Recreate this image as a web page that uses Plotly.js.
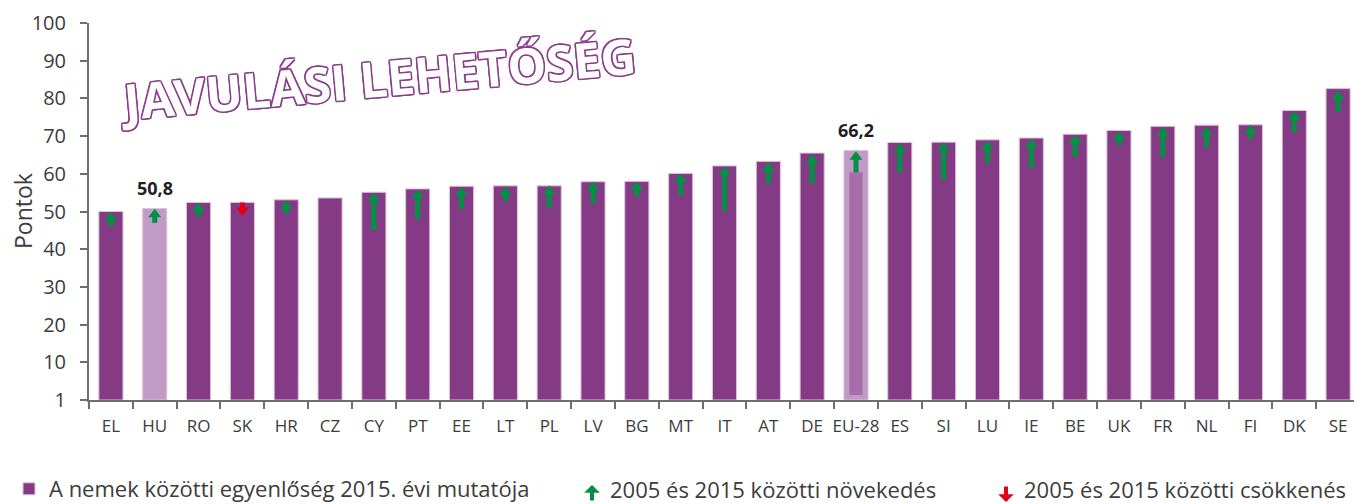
<!DOCTYPE html>
<html><head><meta charset="utf-8">
<script src="https://cdn.plot.ly/plotly-3.0.1.min.js"></script>
<style>html,body{margin:0;padding:0;background:#fff}</style>
</head><body><div id="chart" style="width:1354px;height:504px"></div>
<script>
// ---- data ----
const countries = ['EL','HU','RO','SK','HR','CZ','CY','PT','EE','LT','PL','LV','BG','MT','IT','AT','DE','EU-28','ES','SI','LU','IE','BE','UK','FR','NL','FI','DK','SE'];
const index2015 = [50.0,50.8,52.4,52.4,53.1,53.6,55.1,56.0,56.7,56.8,56.8,57.9,58.0,60.1,62.1,63.3,65.5,66.2,68.3,68.4,69.0,69.5,70.5,71.5,72.6,72.9,73.0,76.8,82.6];
// arrow tail and tip values (2005 -> 2015 change markers)
const arrowFrom = [46.1,47.0,48.6,52.4,49.3,null,45.1,48.0,50.7,52.8,51.0,52.1,54.0,54.3,50.1,57.4,57.4,60.4,60.3,58.5,62.9,61.6,64.5,67.6,64.4,66.9,69.2,71.0,76.4];
const arrowTo   = [49.8,50.7,52.3,48.8,53.0,null,55.0,55.8,56.5,56.5,56.9,57.9,57.9,60.1,61.9,63.0,65.2,66.0,68.1,68.4,68.7,69.2,70.3,71.3,72.4,72.5,73.0,76.7,82.0];
const highlighted = ['HU','EU-28'];
const labelled = ['HU','EU-28'];
const yTickVals = [0,10,20,30,40,50,60,70,80,90,100];
const yTickText = ['1','10','20','30','40','50','60','70','80','90','100'];
const titleText = 'JAVULÁSI LEHETŐSÉG';
const yTitle = 'Pontok';
const legendBar = 'A nemek közötti egyenlőség 2015. évi mutatója';
const legendUp = '2005 és 2015 közötti növekedés';
const legendDown = '2005 és 2015 közötti csökkenés';

// ---- styles ----
const PURPLE = '#843A84', LIGHT = '#C19AC5', INNER = '#A56EA8';
const GREEN = '#009144', RED = '#E3001B', TXT = '#3c3c3c', AX = '#6d6e71';
const W = 1354, H = 504, ML = 89, MR = 0, MT = 23, MB = 104;
const plotH = H - MT - MB;
const ppu = plotH / 100;           // pixels per y unit
const HEAD = 11.3;                 // triangle marker size (px)
const headH = 0.75 * HEAD;
const LEGFONT = 22;
const LEGY = 489;

const barColors = countries.map(c => highlighted.includes(c) ? LIGHT : PURPLE);

const traces = [];
traces.push({
  type:'bar', x:countries, y:index2015, width:0.55, name:legendBar,
  marker:{color:barColors, line:{color:'#dcc3dd', width:1}},
  hoverinfo:'x+y', legend:'legend'
});
// EU-28 inner stripe (up to 2005 level)
const euIdx = countries.indexOf('EU-28');
traces.push({
  type:'bar', x:[countries[euIdx]], y:[arrowFrom[euIdx]-1.3], base:[1.3], width:0.3,
  marker:{color:INNER, line:{width:0}}, showlegend:false, hoverinfo:'skip'
});

const shaftUpX=[], shaftUpY=[], shaftDnX=[], shaftDnY=[];
const headUpX=[], headUpY=[], headDnX=[], headDnY=[];
countries.forEach((c,i)=>{
  const f = arrowFrom[i], t = arrowTo[i];
  if (f === null || t === null) return;
  if (t >= f) {
    shaftUpX.push(c,c,null); shaftUpY.push(f, t - (headH-1)/ppu, null);
    headUpX.push(c); headUpY.push(t - (HEAD/2)/ppu);
  } else {
    shaftDnX.push(c,c,null); shaftDnY.push(f, t + (headH-1)/ppu, null);
    headDnX.push(c); headDnY.push(t + (HEAD/2)/ppu);
  }
});
traces.push({type:'scatter', mode:'lines', x:shaftUpX, y:shaftUpY, line:{color:GREEN, width:5}, showlegend:false, hoverinfo:'skip'});
traces.push({type:'scatter', mode:'lines', x:shaftDnX, y:shaftDnY, line:{color:RED, width:5}, showlegend:false, hoverinfo:'skip'});
traces.push({type:'scatter', mode:'markers', x:headUpX, y:headUpY, marker:{symbol:'triangle-up', size:HEAD, color:GREEN, line:{width:0}}, showlegend:false, hoverinfo:'skip'});
traces.push({type:'scatter', mode:'markers', x:headDnX, y:headDnY, marker:{symbol:'triangle-down', size:HEAD, color:RED, line:{width:0}}, showlegend:false, hoverinfo:'skip'});

const px2x = px => (px - ML) / (W - ML - MR);
const px2y = py => (H - MB - py) / plotH;

const annotations = [];
labelled.forEach(c=>{
  const i = countries.indexOf(c);
  annotations.push({x:c, y:index2015[i], xref:'x', yref:'y', text:index2015[i].toFixed(1).replace('.',','),
    showarrow:false, yanchor:'bottom', yshift:6, font:{family:'Open Sans', size:18, weight:700, color:'#231f20'}});
});
const o = '#8a3f8c';
annotations.push({
  text:titleText, xref:'paper', yref:'paper', x:px2x(378), y:px2y(78), xanchor:'center', yanchor:'middle',
  textangle:-5.2, showarrow:false,
  font:{family:'Open Sans', size:49, weight:700, color:'#ffffff',
    shadow:`-1.3px -1.3px 0 ${o}, 1.3px -1.3px 0 ${o}, -1.3px 1.3px 0 ${o}, 1.3px 1.3px 0 ${o}, 0 -1.5px 0 ${o}, 0 1.5px 0 ${o}, -1.5px 0 0 ${o}, 1.5px 0 0 ${o}`}
});
// y axis title
annotations.push({text:yTitle, xref:'paper', yref:'paper', x:px2x(23), y:px2y(211), xanchor:'center', yanchor:'middle',
  textangle:-90, showarrow:false, font:{family:'Open Sans', size:23, color:TXT}});
// legend arrow items
annotations.push({xref:'paper', yref:'paper', x:px2x(592), y:px2y(485), ax:0, ay:17, text:'', showarrow:true,
  arrowhead:1, arrowsize:0.65, arrowwidth:4, arrowcolor:GREEN, standoff:0});
annotations.push({xref:'paper', yref:'paper', x:px2x(608), y:px2y(LEGY), text:legendUp, showarrow:false, xanchor:'left', yanchor:'middle',
  font:{family:'Open Sans', size:LEGFONT, color:TXT}});
annotations.push({xref:'paper', yref:'paper', x:px2x(1006), y:px2y(502), ax:0, ay:-17, text:'', showarrow:true,
  arrowhead:1, arrowsize:0.65, arrowwidth:4, arrowcolor:RED, standoff:0});
annotations.push({xref:'paper', yref:'paper', x:px2x(1022), y:px2y(LEGY), text:legendDown, showarrow:false, xanchor:'left', yanchor:'middle',
  font:{family:'Open Sans', size:LEGFONT, color:TXT}});

const layout = {
  width:W, height:H, margin:{l:ML, r:MR, t:MT, b:MB},
  paper_bgcolor:'#fff', plot_bgcolor:'#fff',
  barmode:'overlay', showlegend:true,
  font:{family:'Open Sans', color:TXT},
  xaxis:{type:'category', range:[-0.5, 28.5 - 6/43.82], tickson:'boundaries', ticks:'outside', ticklen:7, tickwidth:2, tickcolor:AX,
    showline:true, linecolor:AX, linewidth:2, showgrid:false, zeroline:false, tickfont:{size:17, color:TXT}, tickangle:0, ticklabelstandoff:10,
    fixedrange:true},
  yaxis:{range:[0,100], tickvals:yTickVals, ticktext:yTickText, ticks:'outside', ticklen:7, tickwidth:2, tickcolor:AX,
    showline:true, linecolor:AX, linewidth:2, showgrid:false, zeroline:false, tickfont:{size:20, color:TXT}, ticklabelstandoff:10},
  legend:{orientation:'h', xref:'container', yref:'container', x:9/W, y:(H-LEGY)/H, xanchor:'left', yanchor:'middle',
    itemwidth:30, font:{family:'Open Sans', size:LEGFONT, color:TXT}, bgcolor:'rgba(0,0,0,0)'},
  annotations:annotations
};
Plotly.newPlot('chart', traces, layout, {staticPlot:true, displayModeBar:false});
</script></body></html>
